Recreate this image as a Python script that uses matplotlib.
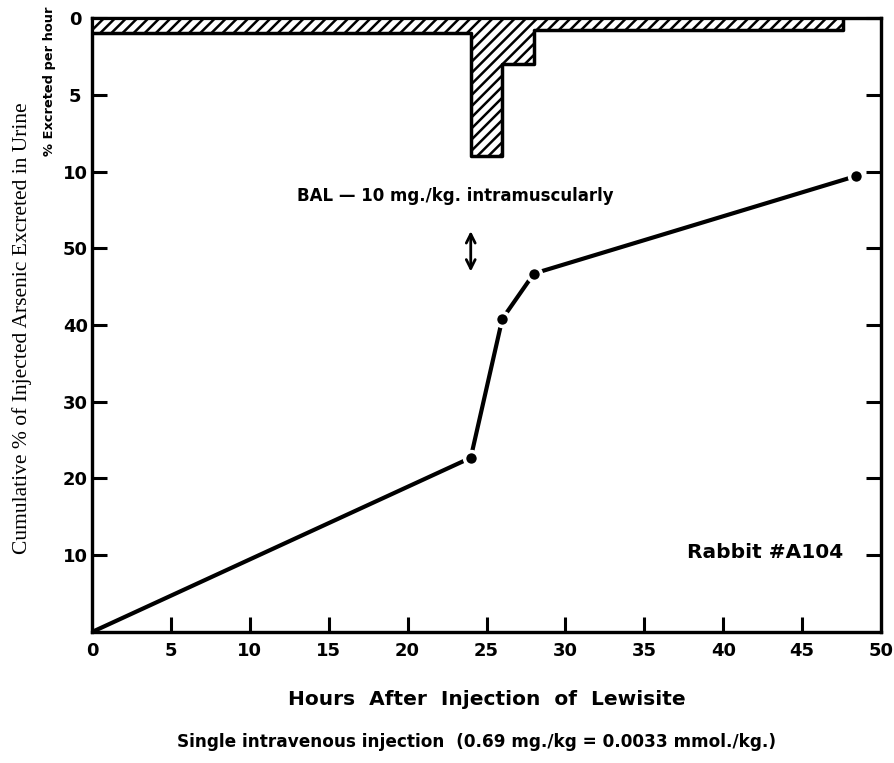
import numpy as np
import matplotlib
matplotlib.use("Agg")
import matplotlib.pyplot as plt

# cumulative % of injected arsenic excreted in urine
hours = [0, 24, 26, 28, 48.4]
cumulative = [0, 22.7, 40.8, 46.7, 59.4]

# % excreted per hour (hatched steps hanging from the top)
rate_edges = [0, 24, 26, 28, 47.6]
rate = [1.0, 9.0, 3.0, 0.8]

cum_ticks = [10, 20, 30, 40, 50]
rate_ticks = [0, 5, 10]
x_ticks = [0, 5, 10, 15, 20, 25, 30, 35, 40, 45, 50]

plt.rcParams['font.family'] = 'DejaVu Sans'
plt.rcParams['font.weight'] = 'bold'
plt.rcParams['hatch.linewidth'] = 1.8

fig = plt.figure(figsize=(8.95, 7.63), dpi=100)
ax = fig.add_axes([0.1028, 0.1717, 0.8816, 0.8047])
ax.set_xlim(0, 50)
ax.set_ylim(0, 80)

# rate axis: 0 at top, 10 where cumulative 60 sits
ax2 = ax.twinx()
ax2.set_ylim(40, 0)
ax2.yaxis.set_ticks_position('left')

for a in (ax, ax2):
    for s in a.spines.values():
        s.set_linewidth(2.3)

# hatched excretion-rate steps
edges = np.array(rate_edges, dtype=float)
vals = np.append(rate, rate[-1])
ax2.fill_between(edges, 0, vals, step='post', facecolor='white',
                 edgecolor='black', hatch='///', linewidth=0)
ax2.plot(np.append(edges, edges[-1]), np.append(vals, 0),
         drawstyle='steps-post', color='black', lw=2.5)

# cumulative line
ax.plot(hours, cumulative, color='black', lw=3, solid_capstyle='round', zorder=3)
ax.plot(hours[1:], cumulative[1:], 'o', color='black', ms=10,
        mfc='black', mec='white', mew=2.5, zorder=4)

# ticks
ax.set_xticks(x_ticks)
ax.set_yticks(cum_ticks)
ax.tick_params(axis='both', direction='in', length=11, width=2.2,
               labelsize=13, right=True)
ax.tick_params(axis='x', pad=7)
ax.tick_params(axis='y', pad=12)
ax2.set_yticks(rate_ticks)
ax2.tick_params(axis='y', direction='in', length=11, width=2.2, labelsize=13,
                left=True, right=True, labelleft=True, labelright=False, pad=12)
for lab in ax.get_yticklabels() + ax2.get_yticklabels():
    lab.set_horizontalalignment('center')
    lab.set_fontweight('bold')
for lab in ax.get_xticklabels():
    lab.set_fontweight('bold')
# corner ticks at 0 and 50 are just the frame
ax.xaxis.get_major_ticks()[0].tick1line.set_visible(False)
ax.xaxis.get_major_ticks()[-1].tick1line.set_visible(False)

# annotations
ax.text(13.0, 56.8, 'BAL — 10 mg./kg. intramuscularly', fontsize=12,
        fontweight='bold', va='center', ha='left')
ax.annotate('', xy=(24, 46.6), xytext=(24, 52.6),
            arrowprops=dict(arrowstyle='<->', lw=2, color='black',
                            mutation_scale=16))
ax.text(47.6, 10.3, 'Rabbit #A104', fontsize=14.5, fontweight='bold',
        va='center', ha='right')

ax.set_xlabel('Hours  After  Injection  of  Lewisite', fontsize=14.5,
              fontweight='bold', labelpad=22)
fig.text(0.532, 0.027, 'Single intravenous injection  (0.69 mg./kg = 0.0033 mmol./kg.)',
         fontsize=12.2, fontweight='bold', ha='center', va='center')

fig.text(0.025, 0.57, 'Cumulative % of Injected Arsenic Excreted in Urine',
         family='Liberation Serif', fontweight='normal', fontsize=15.5,
         rotation=90, ha='center', va='center')
fig.text(0.055, 0.893, '% Excreted per hour', fontsize=9.4, fontweight='bold',
         rotation=90, ha='center', va='center')

fig.savefig('out.png', dpi=100)
